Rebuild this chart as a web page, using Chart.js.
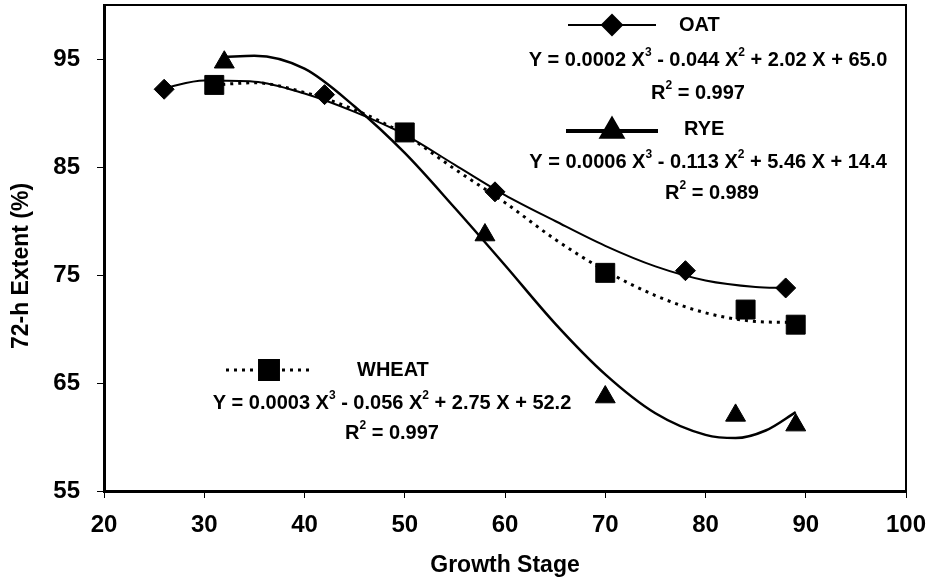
<!DOCTYPE html>
<html>
<head>
<meta charset="utf-8">
<script src="https://cdn.jsdelivr.net/npm/chart.js@4.4.0/dist/chart.umd.min.js"></script>
<style>
  html, body { margin: 0; padding: 0; background: #fff; }
  #wrap { width: 927px; height: 584px; }
</style>
</head>
<body>
<div id="wrap"><canvas id="c" width="927" height="584"></canvas></div>
<script>
// Observed 72-h extent at each growth stage
const oatStage = [26, 42, 59, 78, 88];
const oatExtent = [92.2, 91.7, 82.7, 75.4, 73.8];
const ryeStage = [32, 58, 70, 83, 89];
const ryeExtent = [94.7, 78.7, 63.7, 62.0, 61.1];
const wheatStage = [31, 50, 70, 84, 89];
const wheatExtent = [92.6, 88.2, 75.2, 71.8, 70.4];

// Cubic trend curves, sampled along the growth-stage range
const oatFitStage = [26, 30, 35, 40, 45, 50, 55, 60, 65, 70, 75, 80, 85, 88];
const oatFitExtent = [92.3, 93.0, 92.9, 91.8, 90.1, 88.0, 85.2, 82.4, 80.0, 77.7, 75.8, 74.5, 73.9, 73.8];
const ryeFitStage = [32, 35, 40, 45, 50, 55, 60, 65, 70, 75, 80, 83, 86, 89];
const ryeFitExtent = [95.2, 95.3, 94.1, 90.6, 86.3, 81.2, 75.9, 70.5, 65.8, 62.2, 60.2, 59.9, 60.6, 62.3];
const wheatFitStage = [31, 35, 40, 45, 50, 55, 60, 65, 70, 75, 80, 85, 89];
const wheatFitExtent = [92.6, 92.8, 91.9, 90.3, 88.0, 84.8, 81.7, 78.3, 75.4, 73.1, 71.5, 70.7, 70.6];

// Axis ticks
const xTicks = [20, 30, 40, 50, 60, 70, 80, 90, 100];
const yTicks = [55, 65, 75, 85, 95];

// Axis titles
const xTitle = 'Growth Stage';
const yTitle = '72-h Extent (%)';

// Legend text
const seriesNames = ['OAT', 'RYE', 'WHEAT'];
const oatEquation = [['Y = 0.0002 X'], ['3', true], [' - 0.044 X'], ['2', true], [' + 2.02 X + 65.0']];
const ryeEquation = [['Y = 0.0006 X'], ['3', true], [' - 0.113 X'], ['2', true], [' + 5.46 X + 14.4']];
const wheatEquation = [['Y = 0.0003 X'], ['3', true], [' - 0.056 X'], ['2', true], [' + 2.75 X + 52.2']];
const oatR2 = [['R'], ['2', true], [' = 0.997']];
const ryeR2 = [['R'], ['2', true], [' = 0.989']];
const wheatR2 = [['R'], ['2', true], [' = 0.997']];

const FONT = '"Liberation Sans", Arial, Helvetica, sans-serif';

function pairs(xs, ys) { return xs.map((x, i) => ({ x: x, y: ys[i] })); }

function fitLine(xs, ys, width, dash) {
  return {
    type: 'line', data: pairs(xs, ys), showLine: true,
    borderColor: '#000', borderWidth: width, borderDash: dash || [],
    borderCapStyle: 'butt', pointRadius: 0, fill: false,
    cubicInterpolationMode: 'monotone', order: 2
  };
}
function markers(xs, ys, style, r) {
  return {
    type: 'scatter', data: pairs(xs, ys), showLine: false,
    pointStyle: style, pointRadius: r, pointBackgroundColor: '#000',
    pointBorderColor: '#000', pointBorderWidth: 1, order: 1
  };
}

// Text with superscripts, centred (or left aligned) on a point
function richText(ctx, parts, x, y, size, align) {
  const main = 'bold ' + size + 'px ' + FONT;
  const sup = 'bold ' + Math.round(size * 0.6) + 'px ' + FONT;
  let w = 0;
  parts.forEach(p => { ctx.font = p[1] ? sup : main; w += ctx.measureText(p[0]).width; });
  let cx = align === 'left' ? x : x - w / 2;
  ctx.textAlign = 'left';
  ctx.textBaseline = 'middle';
  parts.forEach(p => {
    ctx.font = p[1] ? sup : main;
    ctx.fillText(p[0], cx, p[1] ? y - size * 0.38 : y);
    cx += ctx.measureText(p[0]).width;
  });
}

function legendSample(ctx, x0, x1, y, lineW, dash, style, r) {
  ctx.save();
  ctx.strokeStyle = '#000';
  ctx.fillStyle = '#000';
  ctx.lineWidth = lineW;
  ctx.lineCap = 'butt';
  ctx.setLineDash(dash || []);
  ctx.beginPath();
  ctx.moveTo(x0, y);
  ctx.lineTo(x1, y);
  ctx.stroke();
  ctx.setLineDash([]);
  Chart.helpers.drawPoint(ctx, { pointStyle: style, radius: r, rotation: 0, borderWidth: 1 }, (x0 + x1) / 2, y);
  ctx.restore();
}

// Top and right edges of the plot box, plus the vertical axis title
const framePlugin = {
  id: 'frame',
  afterDraw(chart) {
    const { ctx, chartArea: a } = chart;
    ctx.save();
    ctx.strokeStyle = '#000';
    ctx.lineWidth = 2;
    ctx.beginPath();
    ctx.moveTo(a.left, a.top);
    ctx.lineTo(a.right, a.top);
    ctx.lineTo(a.right, a.bottom);
    ctx.stroke();

    ctx.translate(22, 266);
    ctx.rotate(-Math.PI / 2);
    ctx.fillStyle = '#000';
    ctx.font = 'bold 23px ' + FONT;
    ctx.textAlign = 'center';
    ctx.textBaseline = 'middle';
    ctx.fillText(yTitle, 0, 0);
    ctx.restore();
  }
};

const legendPlugin = {
  id: 'equations',
  afterDraw(chart) {
    const ctx = chart.ctx;
    ctx.save();
    ctx.fillStyle = '#000';
    legendSample(ctx, 568, 656, 25, 2, null, 'rectRot', 10);
    richText(ctx, [[seriesNames[0]]], 679, 25, 20, 'left');
    richText(ctx, oatEquation, 708, 60, 20);
    richText(ctx, oatR2, 698, 93, 20);

    legendSample(ctx, 566, 658, 131, 4, null, 'triangle', 11.5);
    richText(ctx, [[seriesNames[1]]], 684, 129, 20, 'left');
    richText(ctx, ryeEquation, 708, 162, 20);
    richText(ctx, ryeR2, 712, 193, 20);

    legendSample(ctx, 226, 312, 370, 3, [3, 5], 'rect', 13.4);
    richText(ctx, [[seriesNames[2]]], 357, 370, 20, 'left');
    richText(ctx, wheatEquation, 392, 403, 20);
    richText(ctx, wheatR2, 392, 433, 20);
    ctx.restore();
  }
};

const tickFont = { family: FONT, size: 24, weight: 'bold' };
const titleFont = { family: FONT, size: 23, weight: 'bold' };

new Chart(document.getElementById('c'), {
  type: 'scatter',
  data: {
    datasets: [
      fitLine(oatFitStage, oatFitExtent, 2),
      fitLine(ryeFitStage, ryeFitExtent, 2.5),
      fitLine(wheatFitStage, wheatFitExtent, 3, [3, 5]),
      markers(oatStage, oatExtent, 'rectRot', 10),
      markers(ryeStage, ryeExtent, 'triangle', 11.5),
      markers(wheatStage, wheatExtent, 'rect', 13.4)
    ]
  },
  options: {
    responsive: false,
    animation: false,
    layout: { autoPadding: false, padding: { top: 5, right: 21, left: 0, bottom: 0 } },
    plugins: { legend: { display: false }, tooltip: { enabled: false } },
    scales: {
      x: {
        type: 'linear', min: 20, max: 100,
        afterBuildTicks: s => { s.ticks = xTicks.map(v => ({ value: v })); },
        afterFit: s => { s.height = 93; s.paddingLeft = 0; s.paddingRight = 0; },
        grid: { drawOnChartArea: false, drawTicks: true, tickLength: 7, color: '#000', lineWidth: 1 },
        border: { color: '#000', width: 3 },
        ticks: { color: '#000', font: tickFont, padding: 13, maxRotation: 0 },
        title: { display: true, text: xTitle, color: '#000', font: titleFont, padding: { top: 0, bottom: 5 } }
      },
      y: {
        type: 'linear', min: 55, max: 100,
        afterBuildTicks: s => { s.ticks = yTicks.map(v => ({ value: v })); },
        afterFit: s => { s.width = 104; s.paddingTop = 0; s.paddingBottom = 0; },
        grid: { drawOnChartArea: false, drawTicks: true, tickLength: 7, color: '#000', lineWidth: 1 },
        border: { color: '#000', width: 3 },
        ticks: { color: '#000', font: tickFont, padding: 17 }
      }
    }
  },
  plugins: [framePlugin, legendPlugin]
});
</script>
</body>
</html>
